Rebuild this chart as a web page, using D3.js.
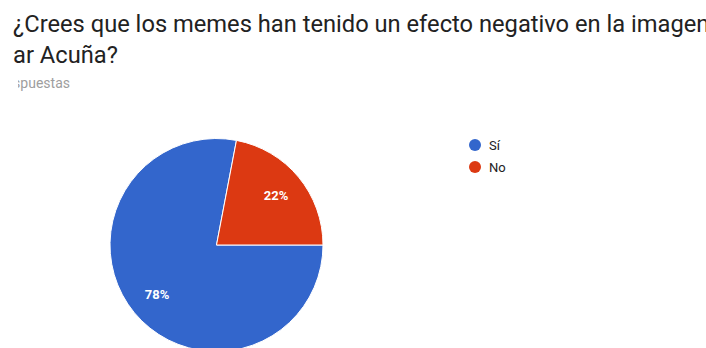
<!DOCTYPE html>
<html>
<head>
<meta charset="utf-8">
<script src="https://cdn.jsdelivr.net/npm/d3@7"></script>
<style>
  html, body { margin: 0; padding: 0; background: #fff; overflow: hidden; }
  svg { display: block; font-family: Roboto, Arial, sans-serif; }
</style>
</head>
<body>
<svg id="chart"></svg>
<script>
// data
const categories = ["Sí", "No"];
const values = [78, 22];
const colors = ["#3366cc", "#dc3912"];

const w = 706, h = 348;
const svg = d3.select("#chart").attr("width", w).attr("height", h);

// the screenshot is cropped on the left for the subtitle
svg.append("defs").append("clipPath").attr("id", "subclip")
  .append("rect").attr("x", 18).attr("y", 70).attr("width", 200).attr("height", 30);

// title (cropped like the screenshot)
svg.append("text")
  .attr("x", 13).attr("y", 32)
  .attr("font-size", 23.7).attr("fill", "#222")
  .text("¿Crees que los memes han tenido un efecto negativo en la imagen");
svg.append("text")
  .attr("x", 13).attr("y", 63)
  .attr("font-size", 23.7).attr("fill", "#222")
  .text("ar Acuña?");
svg.append("text")
  .attr("x", 70).attr("y", 88)
  .attr("text-anchor", "end")
  .attr("clip-path", "url(#subclip)")
  .attr("font-size", 14).attr("fill", "#9e9e9e")
  .text("respuestas");

// pie
const cx = 216.5, cy = 245, r = 106.5;
const pie = d3.pie().sort(null)
  .startAngle(Math.PI / 2)
  .endAngle(Math.PI / 2 + 2 * Math.PI);
const arc = d3.arc().innerRadius(0).outerRadius(r);
const labelArc = d3.arc().innerRadius(r * 0.725).outerRadius(r * 0.725);
const total = d3.sum(values);

const g = svg.append("g").attr("transform", `translate(${cx},${cy})`);
const slices = pie(values);

g.selectAll("path")
  .data(slices)
  .enter()
  .append("path")
  .attr("d", arc)
  .attr("fill", (d, i) => colors[i])
  .attr("stroke", "#fff")
  .attr("stroke-width", 1);

g.selectAll("text")
  .data(slices)
  .enter()
  .append("text")
  .attr("transform", d => `translate(${labelArc.centroid(d)})`)
  .attr("text-anchor", "middle")
  .attr("dy", "0.35em")
  .attr("font-size", 13)
  .attr("font-weight", "bold")
  .attr("fill", "#fff")
  .text(d => Math.round(d.value / total * 100) + "%");

// legend
const legend = svg.append("g").attr("transform", "translate(475,145)");
const item = legend.selectAll("g")
  .data(categories)
  .enter()
  .append("g")
  .attr("transform", (d, i) => `translate(0,${i * 22})`);
item.append("circle")
  .attr("r", 6)
  .attr("fill", (d, i) => colors[i]);
item.append("text")
  .attr("x", 14).attr("dy", "0.35em")
  .attr("font-size", 13).attr("fill", "#222")
  .text(d => d);
</script>
</body>
</html>
